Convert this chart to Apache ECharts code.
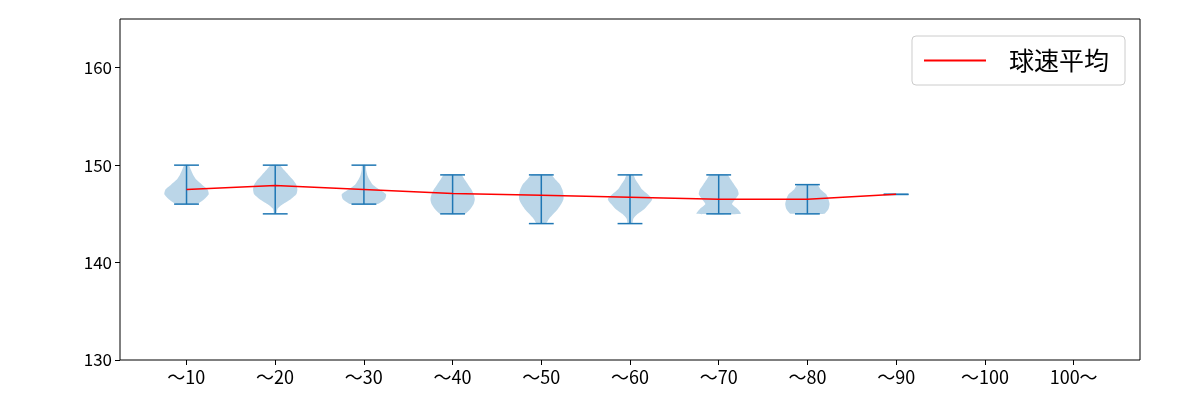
<!DOCTYPE html>
<html>
<head>
<meta charset="utf-8">
<script src="https://cdn.jsdelivr.net/npm/echarts@6/dist/echarts.min.js"></script>
<style>html,body{margin:0;padding:0;background:#fff}#main{width:1200px;height:400px}</style>
</head>
<body>
<div id="main"></div>
<script>
const categories = ['～10', '～20', '～30', '～40', '～50', '～60', '～70', '～80', '～90', '～100', '100～'];
const mins = [146, 145, 146, 145, 144, 144, 145, 145, 147];
const maxs = [150, 150, 150, 149, 149, 149, 149, 148, 147];
const means = [147.5, 147.9, 147.5, 147.1, 146.9, 146.7, 146.5, 146.5, 147.0];
// relative half-widths, sampled every 0.5 from min to max
const profiles = [
  [0.45, 0.8, 1.0, 0.95, 0.7, 0.45, 0.3, 0.2, 0.1],
  [0.05, 0.1, 0.35, 0.7, 0.95, 1.0, 0.95, 0.8, 0.6, 0.4, 0.2],
  [0.6, 0.95, 1.0, 0.7, 0.4, 0.25, 0.15, 0.1, 0.08],
  [0.55, 0.8, 0.95, 1.0, 0.95, 0.85, 0.7, 0.55, 0.4],
  [0.2, 0.35, 0.55, 0.75, 0.9, 1.0, 1.0, 0.95, 0.85, 0.65, 0.45],
  [0.1, 0.15, 0.35, 0.65, 0.85, 1.0, 0.8, 0.55, 0.4, 0.25, 0.15],
  [1.0, 0.85, 0.6, 0.75, 0.9, 0.85, 0.7, 0.55, 0.4],
  [0.75, 0.95, 1.0, 0.95, 0.85, 0.6, 0.45],
  []
];

const chart = echarts.init(document.getElementById('main'));
const font = '"Noto Sans CJK JP", "DejaVu Sans", sans-serif';
const blue = '#1f77b4';

function renderViolin(params, api) {
  const i = api.value(0);
  const x = i + 1;
  const prof = profiles[i];
  const children = [];
  if (prof.length > 1) {
    const left = [], right = [];
    for (let k = 0; k < prof.length; k++) {
      const y = mins[i] + k * 0.5;
      const w = prof[k] * 0.25;
      right.push(api.coord([x + w, y]));
      left.unshift(api.coord([x - w, y]));
    }
    children.push({
      type: 'polygon',
      shape: { points: right.concat(left), smooth: 0.2 },
      style: { fill: 'rgba(31,119,180,0.3)' }
    });
  }
  const cw = 0.14;
  const lineStyle = { stroke: blue, lineWidth: 1.5 };
  const top = api.coord([x, maxs[i]]), bot = api.coord([x, mins[i]]);
  children.push({ type: 'line', shape: { x1: top[0], y1: top[1], x2: bot[0], y2: bot[1] }, style: lineStyle });
  [maxs[i], mins[i]].forEach(function (v) {
    const a = api.coord([x - cw, v]), b = api.coord([x + cw, v]);
    children.push({ type: 'line', shape: { x1: a[0], y1: a[1], x2: b[0], y2: b[1] }, style: lineStyle });
  });
  return { type: 'group', children: children };
}

chart.setOption({
  animation: false,
  backgroundColor: '#fff',
  grid: [
    { left: 120, right: 60, top: 19, bottom: 40, show: true, borderColor: '#000', borderWidth: 1, backgroundColor: 'transparent' },
    { left: 142, right: 82, top: 19, bottom: 40 }
  ],
  xAxis: [
    { type: 'value', gridIndex: 0, min: 0.25, max: 11.75, axisLine: { show: false }, axisTick: { show: false }, axisLabel: { show: false }, splitLine: { show: false } },
    { type: 'category', gridIndex: 1, data: categories, boundaryGap: true,
      axisLine: { show: false },
      axisTick: { show: true, alignWithLabel: true, length: 5, lineStyle: { color: '#000' } },
      axisLabel: { color: '#000', fontSize: 18, fontFamily: font, margin: 8 } }
  ],
  yAxis: [
    { type: 'value', gridIndex: 0, min: 130, max: 165, interval: 10,
      axisLine: { show: false }, splitLine: { show: false },
      axisTick: { show: true, length: 5, lineStyle: { color: '#000' } },
      axisLabel: { color: '#000', fontSize: 17, fontFamily: font, margin: 8, showMaxLabel: false } },
    { type: 'value', gridIndex: 1, min: 130, max: 165, show: false }
  ],
  legend: {
    right: 75, top: 36, orient: 'vertical',
    backgroundColor: '#fff', borderColor: '#ccc', borderWidth: 1, borderRadius: 4,
    padding: [12, 16, 12, 12], itemWidth: 62, itemHeight: 2, itemGap: 10,
    textStyle: { fontSize: 25, fontFamily: font, color: '#000', padding: [0, 0, 0, 18] },
    data: [{ name: '球速平均', icon: 'rect' }]
  },
  series: [
    { type: 'custom', xAxisIndex: 0, yAxisIndex: 0, renderItem: renderViolin,
      data: mins.map(function (_, i) { return [i]; }), silent: true, z: 2 },
    { name: '球速平均', type: 'line', xAxisIndex: 0, yAxisIndex: 0,
      data: means.map(function (m, i) { return [i + 1, m]; }),
      showSymbol: false, lineStyle: { color: '#ff0000', width: 1.5 }, itemStyle: { color: '#ff0000' }, z: 3 }
  ]
});
</script>
</body>
</html>
